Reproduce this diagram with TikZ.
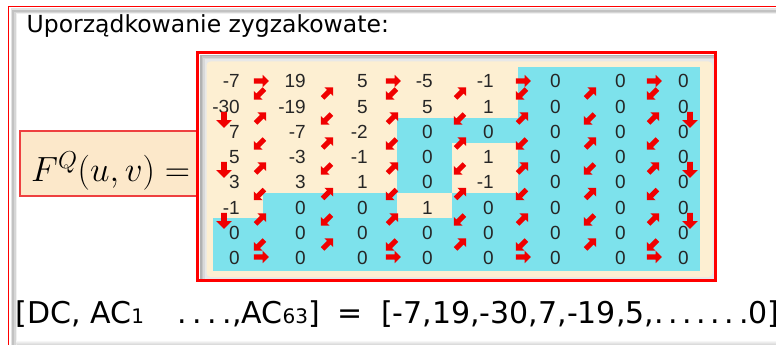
\RequirePackage{fix-cm}
\documentclass[tikz,border=0pt]{standalone}
\usepackage{fontspec}
\setmainfont{DejaVu Sans}
\newfontfamily\cellfont{Liberation Sans}
\usetikzlibrary{shapes.arrows}
\definecolor{framered}{HTML}{FF0000}
\definecolor{boxred}{HTML}{EE4040}
\definecolor{arrowred}{HTML}{F00000}
\definecolor{panelbeige}{HTML}{FDEFD2}
\definecolor{boxbeige}{HTML}{FCE8CA}
\definecolor{lowcyan}{HTML}{7DE2EC}
\newcommand\dotgap{.\kern5.6pt}
\newcommand\dotgapb{.\kern4.6pt}
\newcommand\smalldigits[1]{{\fontsize{20}{20}\selectfont #1}}

\begin{document}
\begin{tikzpicture}[x=1pt,y=-1pt,
  zz/.style={single arrow, fill=arrowred, draw=none, inner xsep=0pt, inner ysep=2.4pt,
    minimum height=15pt, single arrow head extend=3.6pt, anchor=center},
  zzdown/.style={zz, minimum height=16pt, inner ysep=2.6pt, single arrow head extend=5pt},
  cell/.style={font=\cellfont\fontsize{19}{19}\selectfont, anchor=base east,
    inner sep=0pt, text=black!85}
]
\useasboundingbox (0,0) rectangle (776,345);
\fill[white] (0,0) rectangle (776,345);

% outer window: red edge with an inset bevel on the top and left
\fill[gray!22] (10.5,8.5) rectangle (776,345);
\fill[gray!48] (12,10) rectangle (776,345);
\fill[gray!32] (14,12) rectangle (776,345);
\fill[gray!12] (15.5,13.5) rectangle (776,345);
\fill[white] (16.5,14.5) rectangle (776,345);
\shade[top color=white, bottom color=gray!35] (16.5,340) rectangle (776,345);
\draw[framered, line width=1pt] (8.5,345) -- (8.5,6.5) -- (776,6.5);

% heading
\node[anchor=base west, inner sep=0pt, font=\fontsize{23.5}{28}\selectfont]
  (title) at (26.5,32.5) {Uporządkowanie zygzakowate:};

% left-hand side of the equation
\node[draw=boxred, fill=boxbeige, line width=1.3pt, minimum width=178pt,
  minimum height=65pt, anchor=north west, inner sep=0pt] (lhsbox) at (19.2,130.3) {};
\node[anchor=base west, inner sep=0pt, font=\fontsize{35}{35}\selectfont]
  (lhs) at (31,181) {$F^Q(u,v) =$};

% matrix frame
\fill[white] (197.5,52.5) rectangle (715.5,280.5);
\fill[gray!60] (200,55) rectangle (714.5,279.5);
\fill[gray!45] (201.5,56.5) rectangle (714.5,279.5);
\fill[gray!30] (203,58) rectangle (714.5,279.5);
\fill[gray!18] (204.5,59.5) rectangle (714.5,279.5);
\fill[panelbeige, rounded corners=4pt] (206.5,61.5) rectangle (712.5,277);
\draw[framered, line width=2.2pt] (197.5,52.5) rectangle (715.5,280.5);

% zero-valued (cyan) regions of the coefficient block
\fill[lowcyan] (518,67) rectangle (700,271);
\fill[lowcyan] (397,118) rectangle (518,143);
\fill[lowcyan] (397,143) rectangle (452,193);
\fill[lowcyan] (263,193) rectangle (397,218);
\fill[lowcyan] (452,193) rectangle (518,218);
\fill[lowcyan] (213,218) rectangle (700,271);

% coefficients
\def\RX{{240,306,368,433,494,561,626,689}}
\def\RY{{81,106,131,156,181,207,232,257}}
\foreach \row [count=\i from 0] in
  {{-7,19,5,-5,-1,0,0,0},{-30,-19,5,5,1,0,0,0},{7,-7,-2,0,0,0,0,0},
   {5,-3,-1,0,1,0,0,0},{3,3,1,0,-1,0,0,0},{-1,0,0,1,0,0,0,0},
   {0,0,0,0,0,0,0,0},{0,0,0,0,0,0,0,0}}
  \foreach \v [count=\j from 0] in \row {
    \pgfmathsetmacro\cx{\RX[\j]}
    \pgfmathsetmacro\cy{\RY[\i]+7}
    \node[cell] (c-\i-\j) at (\cx,\cy) {\v};
  }

% zigzag scan arrows
\def\GX{{260,327,392,460,522,590,653}}
\def\BY{{93.5,118.5,143.5,168.5,194,219.5,244.5}}
% diagonal steps at every gap/row-boundary crossing
\foreach \k in {0,...,6}
  \foreach \b in {0,...,6} {
    \pgfmathsetmacro\ax{\GX[\k]}
    \pgfmathsetmacro\ay{\BY[\b]}
    \pgfmathtruncatemacro\odd{mod(\k+\b,2)}
    \ifnum\odd=1
      \node[zz, rotate=45] (d-\k-\b) at (\ax,\ay) {};
    \else
      \node[zz, rotate=-135] (d-\k-\b) at (\ax,\ay) {};
    \fi
  }
% horizontal steps along the first and last rows
\foreach \k/\r in {0/0,2/0,4/0,6/0,0/7,2/7,4/7,6/7} {
  \pgfmathsetmacro\ax{\GX[\k]}
  \pgfmathsetmacro\ay{\RY[\r]}
  \node[zz] (h-\k-\r) at (\ax,\ay) {};
}
% vertical steps along the first and last columns
\foreach \x/\b in {224/1,224/3,224/5,690/1,690/3,690/5} {
  \pgfmathsetmacro\ay{\BY[\b]}
  \node[zzdown, rotate=-90] (v-\x-\b) at (\x,\ay) {};
}

% scanned sequence
\node[anchor=base west, inner sep=0pt, font=\fontsize{30}{30}\selectfont]
  (seq) at (15.5,323)
  {[DC, AC\smalldigits{1}\ \ \hspace{14pt}\dotgap\dotgap\dotgap.,AC\smalldigits{63}]\hspace{8pt} = \hspace{9pt}[-7,19,-30,7,-19,5,\dotgapb\dotgapb\dotgapb\dotgapb\dotgapb\dotgapb.0]};
\end{tikzpicture}
\end{document}
